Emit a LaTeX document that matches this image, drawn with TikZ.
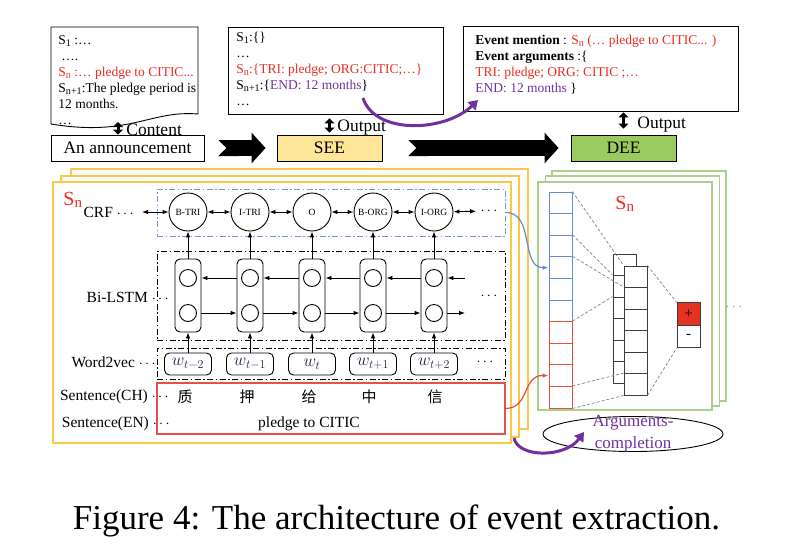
\documentclass[tikz,border=0pt]{standalone}
\usepackage{fontspec}
\setmainfont{Liberation Serif}
\newfontfamily\cjk{Noto Sans CJK SC}
\usepackage{xcolor}
\usetikzlibrary{shapes.geometric, arrows.meta, positioning}

\definecolor{seeyellow}{RGB}{253,229,153}
\definecolor{deegreen}{RGB}{155,203,95}
\definecolor{framegold}{RGB}{249,200,72}
\definecolor{framegreen}{RGB}{170,208,140}
\definecolor{crfblue}{RGB}{120,150,210}
\definecolor{colblue}{RGB}{100,140,215}
\definecolor{colred}{RGB}{235,75,65}
\definecolor{sentred}{RGB}{230,80,75}
\definecolor{textred}{RGB}{235,45,35}
\definecolor{argpurple}{RGB}{112,48,160}
\definecolor{wordnavy}{RGB}{30,40,75}
\definecolor{plusred}{RGB}{230,50,35}
\definecolor{dotteal}{RGB}{70,190,160}
\definecolor{dashgray}{RGB}{130,130,130}
\definecolor{cellgray}{RGB}{60,60,60}

\newcommand{\lowsub}[1]{\raisebox{-0.12em}{\scalebox{0.75}{#1}}}

\tikzstyle{boxtext} = [inner sep=0, align=left, font=\fontsize{13.5}{16}\selectfont]
\tikzstyle{stage} = [rectangle, draw=black, minimum width=105pt, minimum height=26pt, font=\fontsize{17.5}{20}\selectfont]
\tikzstyle{biglabel} = [anchor=base west, inner sep=0, font=\fontsize{17.5}{20}\selectfont]
\tikzstyle{bigarrow} = [line width=16pt, {Triangle Cap[reversed]}-{Triangle[length=14pt, width=30pt]}]
\tikzstyle{updown} = [line width=3pt, {Triangle[length=5pt, width=10pt]}-{Triangle[length=5pt, width=10pt]}]
\tikzstyle{purplearrow} = [argpurple, line width=3pt, -{Triangle[length=9pt, width=11pt]}]
\tikzstyle{yframe} = [rectangle, draw=framegold, fill=white, line width=1.3pt, inner sep=0]
\tikzstyle{gframe} = [rectangle, draw=framegreen, fill=white, line width=1.3pt, inner sep=0, minimum width=174pt]
\tikzstyle{snlabel} = [inner sep=0, text=textred, font=\fontsize{20}{22}\selectfont]
\tikzstyle{dashdot} = [dash pattern=on 6pt off 2.5pt on 1.5pt off 2.5pt]
\tikzstyle{layerlabel} = [anchor=east, inner sep=0, font=\fontsize{15.5}{18}\selectfont]
\tikzstyle{dots} = [inner sep=0, font=\fontsize{15.5}{18}\selectfont]
\tikzstyle{crfnode} = [circle, draw, fill=white, minimum size=38pt, inner sep=0, font=\fontsize{9.5}{11}\selectfont]
\tikzstyle{lstmcell} = [rectangle, rounded corners=5pt, draw, fill=white, minimum width=26pt, minimum height=73pt]
\tikzstyle{gate} = [circle, draw, minimum size=17pt, inner sep=0]
\tikzstyle{wordbox} = [rectangle, rounded corners=5pt, draw, minimum width=47pt, minimum height=22pt, inner sep=0, text=wordnavy, font=\fontsize{18.5}{20}\selectfont]
\tikzstyle{hanzi} = [inner sep=0, font=\cjk\fontsize{15}{18}\selectfont]
\tikzstyle{colcell} = [rectangle, draw, fill=white, minimum width=23pt, minimum height=21.6pt, inner sep=0, font=\fontsize{15}{18}\selectfont]
\tikzstyle{arrow} = [-{Latex[length=6pt, width=4.5pt]}]
\tikzstyle{biarrow} = [{Latex[length=6pt, width=4.5pt]}-{Latex[length=6pt, width=4.5pt]}]
\tikzstyle{fcline} = [dashgray, line width=0.7pt, dash pattern=on 3pt off 2pt]

\begin{document}
\begin{tikzpicture}[x=1pt, y=-1pt, line width=0.9pt]
\useasboundingbox (0,0) rectangle (797,558);

% announcement, SEE, DEE
\draw (51,27) -- (198,27) -- (198,114) .. controls (150,110) and (130,137) .. (51,124) -- cycle;
\node (doctext) [boxtext, anchor=north west] at (58,35) {S\lowsub{1} :…\\
\hspace{3pt}….\\
\textcolor{textred}{S\lowsub{n} :… pledge to CITIC...}\\
S\lowsub{n+1}:The pledge period is\\
12 months.\\
…};
\coordinate (docbot) at (118,122);

\node (announce) [stage, minimum width=153pt] at (127.5,148) {An announcement};
\node (see) [stage, fill=seeyellow] at (329.5,148) {SEE};
\node (dee) [stage, fill=deegreen] at (623.5,148) {DEE};

\draw [updown] (docbot) -- (announce.north -| docbot);
\node (content) [biglabel] at (126,135) {Content};

\node (seeout) [draw, minimum width=215pt, minimum height=87pt] at (335.5,70.5) {};
\node (seetext) [boxtext, anchor=north west] at (236,32) {S\lowsub{1}:\{\}\\
…\\
\textcolor{textred}{S\lowsub{n}:\{TRI: pledge; ORG:CITIC;…\}}\\
S\lowsub{n+1}:\{\textcolor{argpurple}{END: 12 months}\}\\
…};
\draw [updown, shorten <=4pt, shorten >=2pt] (seeout.south -| see.north) -- (see.north);
\node (seeoutput) [biglabel] at (337,131) {Output};

\node (deeout) [draw, minimum width=275pt, minimum height=85pt] at (600.5,68.5) {};
\node (deetext) [boxtext, anchor=north west] at (475,35) {\textbf{Event mention} : \textcolor{textred}{S\lowsub{n} (… pledge to CITIC... )}\\
\textbf{Event arguments} :\{\\
\textcolor{textred}{TRI: pledge; ORG: CITIC ;…}\\
\textcolor{argpurple}{END: 12 months} \}};
\draw [updown, shorten <=1pt, shorten >=6pt] (deeout.south -| dee.north) -- (dee.north);
\node (deeoutput) [biglabel] at (637,128) {Output};

\draw [bigarrow, shorten <=14pt, shorten >=11pt] (announce) -- (see);
\draw [bigarrow, shorten <=26pt, shorten >=12pt] (see) -- (dee);

\coordinate (monthsend) at (363,98);
\coordinate (endarg) at (478,100);
\draw [purplearrow] (monthsend) .. controls (375,135) and (445,132) .. (endarg);

% SEE model
\node (frameback2) [yframe, minimum width=457pt, minimum height=260pt] at (299.5,299) {};
\node (frameback1) [yframe, minimum width=458pt, minimum height=261pt] at (290,306.5) {};
\node (framefront) [yframe, minimum width=458pt, minimum height=261pt] at (282,312.5) {};
\node (snleft) [snlabel, anchor=base west] at (63,205) {S\lowsub{n}};

\node (crfbox) [draw=crfblue, dashdot, minimum width=348pt, minimum height=47pt] at (331,212.5) {};
\node (lstmbox) [draw, dashdot, minimum width=348pt, minimum height=89pt] at (331,295.5) {};
\node (w2vbox) [draw, dashdot, minimum width=348pt, minimum height=31pt] at (331,363.5) {};
\node (sentbox) [draw=sentred, line width=1.2pt, minimum width=348pt, minimum height=51pt] at (331,408.5) {};

\node (crflabel) [layerlabel] at (134,212) {CRF $\cdots$};
\node (lstmlabel) [layerlabel] at (169,297) {Bi-LSTM $\cdots$};
\node (w2vlabel) [layerlabel] at (156,362) {Word2vec $\cdots$};
\node (chlabel) [layerlabel] at (169,397) {Sentence(CH) $\cdots$};
\node (enlabel) [layerlabel] at (170,424) {Sentence(EN) $\cdots$};

\node (crf1) [crfnode] at (188,212) {B-TRI};
\node (crf2) [crfnode] at (250,212) {I-TRI};
\node (crf3) [crfnode] at (312,212) {O};
\node (crf4) [crfnode] at (373,212) {B-ORG};
\node (crf5) [crfnode] at (434,212) {I-ORG};
\node (crfmore) [dots] at (489,211) {$\cdots$};

\draw [biarrow, shorten <=8pt] (crflabel) -- (crf1);
\draw [biarrow] (crf1) -- (crf2);
\draw [biarrow] (crf2) -- (crf3);
\draw [biarrow] (crf3) -- (crf4);
\draw [biarrow] (crf4) -- (crf5);
\draw [biarrow, shorten >=4pt] (crf5) -- (crfmore);

\node (cell1) [lstmcell] at (188,295.5) {};
\node (cell2) [lstmcell] at (250,295.5) {};
\node (cell3) [lstmcell] at (312,295.5) {};
\node (cell4) [lstmcell] at (373,295.5) {};
\node (cell5) [lstmcell] at (434,295.5) {};
\node (up1) [gate] at (188,278) {};
\node (up2) [gate] at (250,278) {};
\node (up3) [gate] at (312,278) {};
\node (up4) [gate] at (373,278) {};
\node (up5) [gate] at (434,278) {};
\node (lo1) [gate] at (188,313) {};
\node (lo2) [gate] at (250,313) {};
\node (lo3) [gate] at (312,313) {};
\node (lo4) [gate] at (373,313) {};
\node (lo5) [gate] at (434,313) {};
\node (lstmmore) [dots] at (489,296) {$\cdots$};
\coordinate (upin) at (465,278);
\coordinate (loout) at (465,313);

\draw [arrow] (cell2.west |- up2) -- (cell1.east |- up1);
\draw [arrow] (cell3.west |- up3) -- (cell2.east |- up2);
\draw [arrow] (cell4.west |- up4) -- (cell3.east |- up3);
\draw [arrow] (cell5.west |- up5) -- (cell4.east |- up4);
\draw [arrow] (upin) -- (cell5.east |- up5);
\draw [arrow] (cell1.east |- lo1) -- (cell2.west |- lo2);
\draw [arrow] (cell2.east |- lo2) -- (cell3.west |- lo3);
\draw [arrow] (cell3.east |- lo3) -- (cell4.west |- lo4);
\draw [arrow] (cell4.east |- lo4) -- (cell5.west |- lo5);
\draw [arrow] (cell5.east |- lo5) -- (loout);

\draw [arrow] (cell1) -- (crf1);
\draw [arrow] (cell2) -- (crf2);
\draw [arrow] (cell3) -- (crf3);
\draw [arrow] (cell4) -- (crf4);
\draw [arrow] (cell5) -- (crf5);

\node (w1) [wordbox] at (188,364) {$w_{t-2}$};
\node (w2) [wordbox] at (250,364) {$w_{t-1}$};
\node (w3) [wordbox] at (312,364) {$w_{t}$};
\node (w4) [wordbox] at (373,364) {$w_{t+1}$};
\node (w5) [wordbox] at (434,364) {$w_{t+2}$};
\node (w2vmore) [dots] at (485,362) {$\cdots$};

\draw [arrow] (w1) -- (cell1);
\draw [arrow] (w2) -- (cell2);
\draw [arrow] (w3) -- (cell3);
\draw [arrow] (w4) -- (cell4);
\draw [arrow] (w5) -- (cell5);

\node (ch1) [hanzi] at (185,397) {质};
\node (ch2) [hanzi] at (247,397) {押};
\node (ch3) [hanzi] at (309,397) {给};
\node (ch4) [hanzi] at (369,397) {中};
\node (ch5) [hanzi] at (435,397) {信};
\node (entext) [inner sep=0, font=\fontsize{15.5}{18}\selectfont] at (309,424) {pledge to CITIC};

% DEE model
\node (gback2) [gframe, minimum height=230pt] at (639,286) {};
\node (gback1) [gframe, minimum height=230pt] at (632.5,291) {};
\node (gfront) [gframe, minimum height=228pt] at (625,296) {};
\node (snright) [snlabel, anchor=base west] at (615,209) {S\lowsub{n}};

\foreach \i in {0,...,5}
  \node (col\i) [colcell, draw=colblue] at (560.5,{192+21.6*(\i+0.5)}) {};
\foreach \i in {6,...,9}
  \node (col\i) [colcell, draw=colred] at (560.5,{192+21.6*(\i+0.5)}) {};

\foreach \i in {0,...,5}
  \node (midb\i) [colcell, draw=cellgray, minimum height=21.5pt] at (624.5,{254+21.5*(\i+0.5)}) {};
\foreach \i in {0,...,5}
  \node (midf\i) [colcell, draw=cellgray, minimum height=21.5pt] at (635.5,{266+21.5*(\i+0.5)}) {};

\node (outplus) [colcell, draw=cellgray, fill=plusred, minimum height=22.5pt] at (688.5,314) {+};
\node (outminus) [colcell, draw=cellgray, minimum height=22.5pt] at (688.5,336.5) {-};
\node (gmore) [dots, text=dotteal] at (734,307) {$\cdots$};

\draw [fcline] (col0.north east) -- (midf0.north west);
\draw [fcline] (col2.north east) -- (midb1.north west);
\draw [fcline] (col3.north east) -- (midf1.north west);
\draw [fcline] (col6.north east) -- (midb2.north west);
\draw [fcline] (col9.north east) -- (midf5.north west);
\draw [fcline] (col9.south east) -- (midf5.south west);
\draw [fcline] (midf0.north east) -- (outplus.north west);
\draw [fcline] (midf5.south east) -- (outminus.south west);

\draw [colblue, line width=1.2pt, arrow] (crfbox.east) .. controls (535,212) and (520,268) .. (col3.west);
\draw [colred, line width=1.2pt, arrow] (sentbox.east) .. controls (530,408) and (522,375) .. (col8.west);

\node (argell) [ellipse, draw, minimum width=180pt, minimum height=35pt] at (633,434) {};
\node (argtext) [align=center, inner sep=0, text=argpurple, font=\fontsize{17}{22}\selectfont] at (argell.center) {Arguments-\\completion};

\coordinate (framecorner) at (514,438);
\coordinate (argtip) at (584,432);
\draw [purplearrow] (framecorner) .. controls (518,458) and (565,458) .. (argtip);

\node (caption) [anchor=base, font=\fontsize{35}{40}\selectfont] at (396.5,529) {Figure 4: The architecture of event extraction.};

\end{tikzpicture}
\end{document}
